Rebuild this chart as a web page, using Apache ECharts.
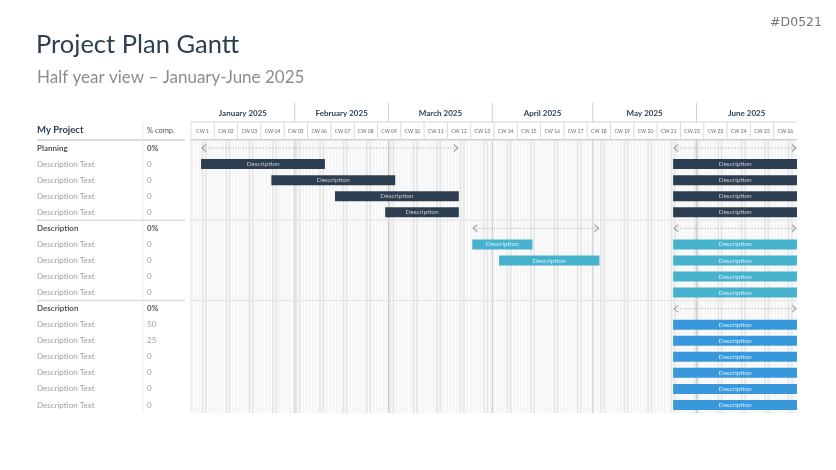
<!DOCTYPE html>
<html><head><meta charset="utf-8">
<script src="https://cdn.jsdelivr.net/npm/echarts@6/dist/echarts.min.js"></script>
<style>html,body{margin:0;padding:0;background:#fff}#c{width:836px;height:470px}</style>
</head><body><div id="c"></div>
<script>
// ---------- data ----------
const rowNames = ['Planning','Description Text','Description Text','Description Text','Description Text',
  'Description','Description Text','Description Text','Description Text','Description Text',
  'Description','Description Text','Description Text','Description Text','Description Text','Description Text','Description Text'];
const rowPct = ['0%','0','0','0','0','0%','0','0','0','0','0%','50','25','0','0','0','0'];
const groupRows = [0,5,10];
const months = ['January 2025','February 2025','March 2025','April 2025','May 2025','June 2025'];
const monthStarts = ['2025-01-01','2025-02-01','2025-03-01','2025-04-01','2025-05-01','2025-06-01','2025-07-01'];
const weekLabels = ['CW 1','CW 02','CW 03','CW 04','CW 05','CW 06','CW 07','CW 08','CW 09','CW 10','CW 11','CW 12','CW 13',
  'CW 14','CW 15','CW 16','CW 17','CW 18','CW 19','CW 20','CW 21','CW 22','CW 23','CW 24','CW 25','CW 26'];
const taskRows   = [1,2,3,4, 1,2,3,4, 6,7, 6,7,8,9, 11,12,13,14,15,16];
const taskStarts = ['2025-01-04','2025-01-25','2025-02-13','2025-02-28',
  '2025-05-25','2025-05-25','2025-05-25','2025-05-25',
  '2025-03-26','2025-04-03',
  '2025-05-25','2025-05-25','2025-05-25','2025-05-25',
  '2025-05-25','2025-05-25','2025-05-25','2025-05-25','2025-05-25','2025-05-25'];
const taskEnds   = ['2025-02-10','2025-03-03','2025-03-22','2025-03-22',
  '2025-07-01','2025-07-01','2025-07-01','2025-07-01',
  '2025-04-13','2025-05-03',
  '2025-07-01','2025-07-01','2025-07-01','2025-07-01',
  '2025-07-01','2025-07-01','2025-07-01','2025-07-01','2025-07-01','2025-07-01'];
const taskGroups = [0,0,0,0, 0,0,0,0, 1,1, 1,1,1,1, 2,2,2,2,2,2];
const taskLabel = 'Description';
const spanRows   = [0,0,5,5,10];
const spanStarts = ['2025-01-04','2025-05-25','2025-03-26','2025-05-25','2025-05-25'];
const spanEnds   = ['2025-03-22','2025-07-01','2025-05-03','2025-07-01','2025-07-01'];
const groupColors = ['#2d3e50','#47b2cd','#3799dc'];

// ---------- helpers ----------
const T = s => new Date(s + 'T00:00:00').getTime();
const DAY = 86400000;
const tMin = T(monthStarts[0]), tMax = T(monthStarts[monthStarts.length-1]);
const days = [];
for (let t = tMin; t < tMax; t += DAY) { const d = new Date(t).getDay(); days.push([t, (d===0||d===6)?1:0]); }
const FONT = 'Lato';

const chart = echarts.init(document.getElementById('c'), null, {renderer:'canvas'});

const option = {
  animation:false,
  backgroundColor:'#fff',
  title:[
    {text:'Project Plan Gantt', left:31, top:27, textStyle:{fontFamily:FONT, fontSize:25.5, fontWeight:'normal', color:'#2d3e50'}},
    {text:'Half year view – January-June 2025', left:32, top:64, textStyle:{fontFamily:FONT, fontSize:17, fontWeight:'normal', color:'#8c8c8c'}},
    {text:'#D0521', right:9, top:11, textStyle:{fontFamily:'DejaVu Sans', fontSize:12.5, fontWeight:'normal', color:'#777'}}
  ],
  grid:{left:191, right:39, top:140, bottom:57},
  xAxis:{type:'time', min:tMin, max:tMax, show:false},
  yAxis:{type:'category', inverse:true, data:rowNames,
    axisLine:{show:false}, axisTick:{show:false}, splitLine:{show:false},
    axisLabel:{align:'left', margin:154, fontFamily:FONT,
      formatter:(v,i)=> groupRows.includes(i) ? `{gn|${v}}{gp|${rowPct[i]}}` : `{n|${v}}{p|${rowPct[i]}}`,
      rich:{
        n:{width:110, fontSize:8, color:'#a0a0a0', fontFamily:FONT},
        p:{fontSize:8, color:'#a0a0a0', fontFamily:FONT},
        gn:{width:110, fontSize:8, color:'#555', fontWeight:'bold', fontFamily:FONT},
        gp:{fontSize:8, color:'#555', fontWeight:'bold', fontFamily:FONT}
      }}
  },
  graphic:[
    {type:'text', left:37, top:125, style:{text:'My Project', font:'bold 9.5px Lato', fill:'#2d3e50'}},
    {type:'text', left:147, top:127, style:{text:'% comp.', font:'7.5px Lato', fill:'#555'}},
    {type:'line', shape:{x1:37,y1:140,x2:185,y2:140}, style:{stroke:'#d0d0d0', lineWidth:1.5}},
    {type:'line', shape:{x1:143,y1:122,x2:143,y2:413}, style:{stroke:'#ececec', lineWidth:1}},
    {type:'line', shape:{x1:191,y1:122,x2:191,y2:413}, style:{stroke:'#dcdcdc', lineWidth:1}},
    {type:'line', shape:{x1:191,y1:122,x2:797,y2:122}, style:{stroke:'#d4d4d4', lineWidth:1}},
    {type:'line', shape:{x1:191,y1:140,x2:797,y2:140}, style:{stroke:'#bcbcbc', lineWidth:1.5}}
  ],
  series:[
    // day background stripes
    {type:'custom', z:1, silent:true, data:days,
      renderItem:(params, api)=>{
        const cs = params.coordSys;
        const x0 = api.coord([api.value(0), 0])[0], x1 = api.coord([api.value(0)+DAY, 0])[0];
        return {type:'rect', shape:{x:x0+0.5, y:cs.y, width:Math.max(0.5,x1-x0-1), height:cs.height},
          style:{fill: api.value(1) ? '#e8e8e8' : '#f5f5f5'}};
      }},
    // month headers + month lines
    {type:'custom', z:3, silent:true, data:months.map((m,i)=>[T(monthStarts[i]), T(monthStarts[i+1]), i]),
      renderItem:(params, api)=>{
        const cs = params.coordSys;
        const x0 = api.coord([api.value(0),0])[0], x1 = api.coord([api.value(1),0])[0];
        const i = api.value(2);
        const ch = [{type:'text', style:{text:months[i], x:(x0+x1)/2, y:cs.y-27, align:'center', verticalAlign:'middle',
          font:'bold 8px Lato', fill:'#2d3e50'}}];
        if (i>0) {
          ch.push({type:'line', shape:{x1:x0,y1:cs.y-37,x2:x0,y2:cs.y-18}, style:{stroke:'#d0d0d0', lineWidth:1}});
          ch.push({type:'line', shape:{x1:x0,y1:cs.y,x2:x0,y2:cs.y+cs.height}, style:{stroke:'#c8c8c8', lineWidth:1}});
        }
        return {type:'group', children:ch};
      }},
    // calendar week header
    {type:'custom', z:3, silent:true, data:weekLabels.map((w,i)=>[i]),
      renderItem:(params, api)=>{
        const cs = params.coordSys;
        const i = api.value(0), w = cs.width/weekLabels.length;
        const x = cs.x + i*w;
        const ch = [{type:'text', style:{text:weekLabels[i], x:x+w/2, y:cs.y-9, align:'center', verticalAlign:'middle',
          font:'5px Lato', fill:'#666'}}];
        if (i>0) ch.push({type:'line', shape:{x1:x,y1:cs.y-18,x2:x,y2:cs.y}, style:{stroke:'#dadada', lineWidth:1}});
        return {type:'group', children:ch};
      }},
    // group separators
    {type:'custom', z:3, silent:true, data:groupRows.filter(r=>r>0).map(r=>[r]),
      renderItem:(params, api)=>{
        const cs = params.coordSys;
        const y = api.coord([tMin, api.value(0)])[1] - api.size([0,1])[1]/2;
        return {type:'group', children:[
          {type:'line', shape:{x1:37,y1:y,x2:185,y2:y}, style:{stroke:'#dcdcdc', lineWidth:1.5}},
          {type:'line', shape:{x1:cs.x,y1:y,x2:cs.x+cs.width,y2:y}, style:{stroke:'#e2e2e2', lineWidth:1}}
        ]};
      }},
    // span arrows
    {type:'custom', z:4, silent:true, data:spanRows.map((r,i)=>[T(spanStarts[i]), T(spanEnds[i]), r]),
      renderItem:(params, api)=>{
        const p0 = api.coord([api.value(0), api.value(2)]), p1 = api.coord([api.value(1), api.value(2)]);
        const y = p0[1], x0 = p0[0], x1 = p1[0];
        const st = {stroke:'#a8a8a8', lineWidth:1.3, fill:null};
        return {type:'group', children:[
          {type:'line', shape:{x1:x0+2,y1:y,x2:x1-2,y2:y}, style:{stroke:'#b0b0b0', lineWidth:1, lineDash:[1,1.5]}},
          {type:'polyline', shape:{points:[[x0+5,y-3.5],[x0+1,y],[x0+5,y+3.5]]}, style:st},
          {type:'polyline', shape:{points:[[x1-5,y-3.5],[x1-1,y],[x1-5,y+3.5]]}, style:st}
        ]};
      }},
    // task bars
    {type:'custom', z:5, silent:true, data:taskRows.map((r,i)=>[T(taskStarts[i]), T(taskEnds[i]), r, taskGroups[i]]),
      renderItem:(params, api)=>{
        const p0 = api.coord([api.value(0), api.value(2)]), p1 = api.coord([api.value(1), api.value(2)]);
        const h = 10, g = api.value(3);
        return {type:'group', children:[
          {type:'rect', shape:{x:p0[0], y:p0[1]-h/2, width:p1[0]-p0[0], height:h}, style:{fill:groupColors[g]}},
          {type:'text', style:{text:taskLabel, x:(p0[0]+p1[0])/2, y:p0[1], align:'center', verticalAlign:'middle',
            font:'6.5px Lato', fill: g===0 ? '#c3cad3' : '#d6eef8'}}
        ]};
      }}
  ]
};
chart.setOption(option);
</script>
</body></html>
